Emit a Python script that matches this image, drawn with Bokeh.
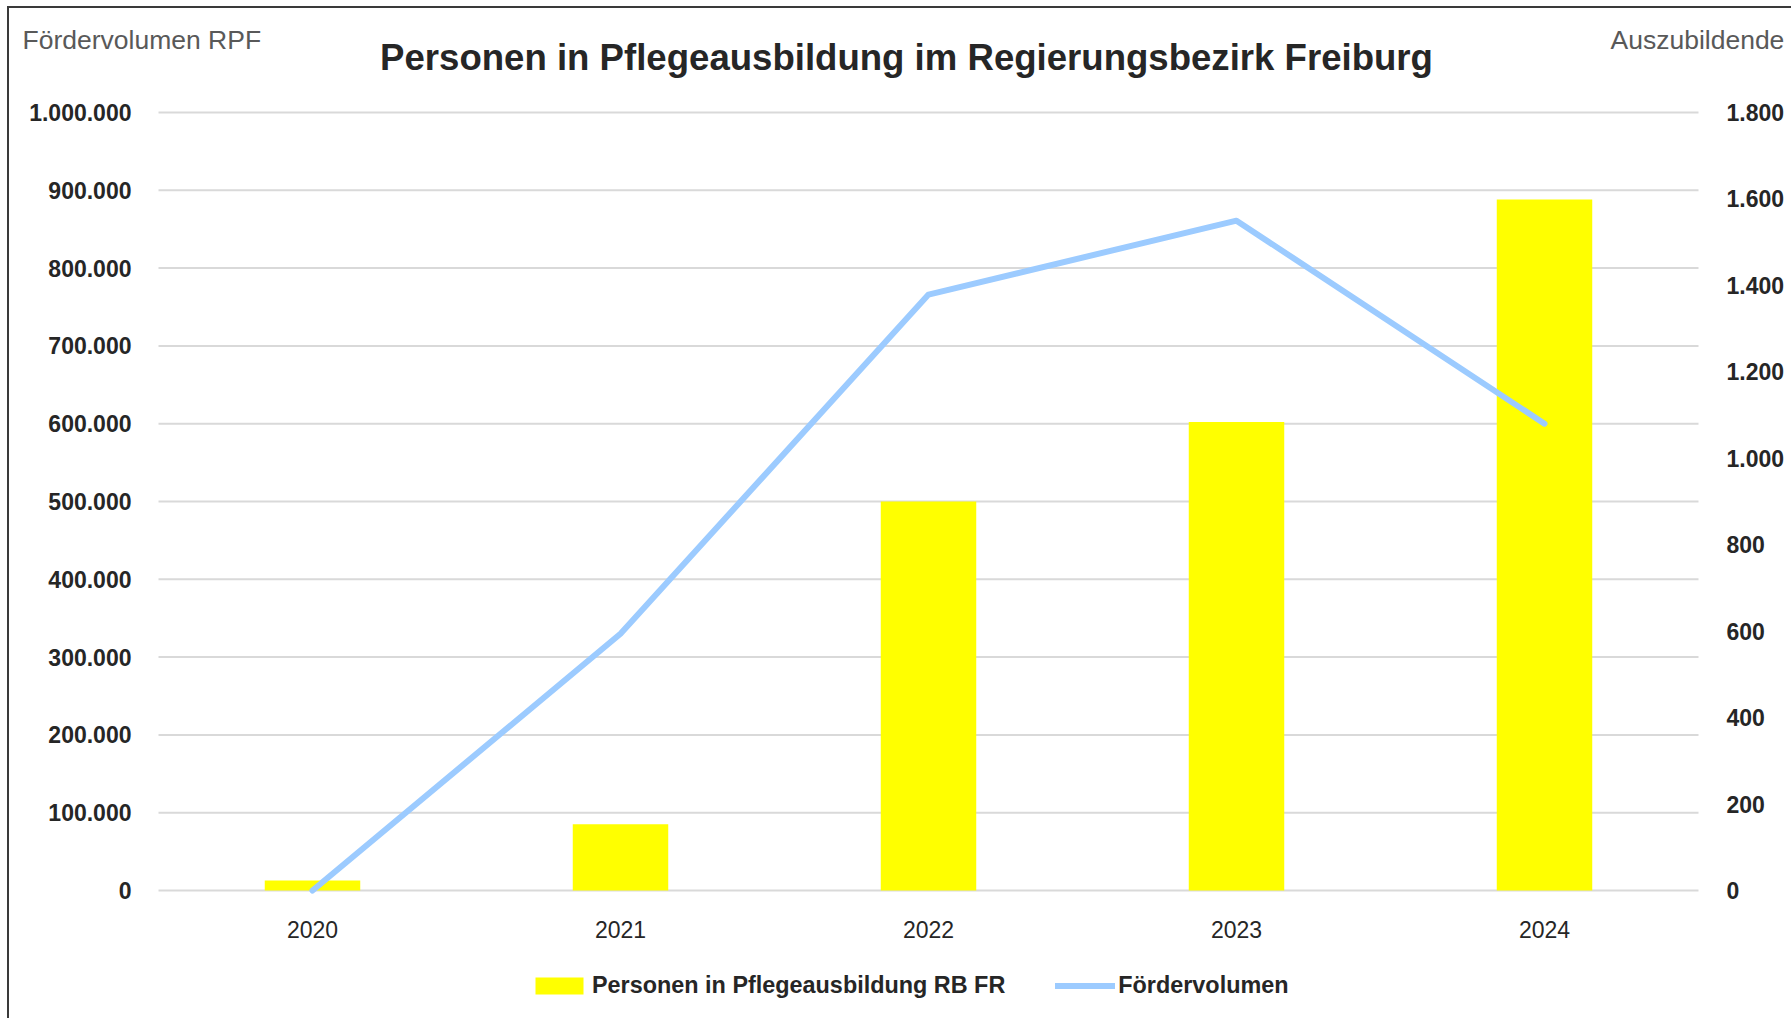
from bokeh.plotting import figure
from bokeh.models import (Range1d, LinearAxis, FixedTicker, Legend, LegendItem, Label)
from bokeh.core.properties import value
from bokeh.embed import file_html
from bokeh.resources import INLINE

# ---- data ----
years = ["2020", "2021", "2022", "2023", "2024"]
personen = [23, 153, 900, 1084, 1599]                     # Auszubildende (right axis)
foerdervolumen = [0, 330000, 766000, 861000, 600000]      # Fördervolumen RPF (left axis)

left_ticks = [0, 100000, 200000, 300000, 400000, 500000, 600000, 700000, 800000, 900000, 1000000]
left_tick_labels = ["0", "100.000", "200.000", "300.000", "400.000", "500.000",
                    "600.000", "700.000", "800.000", "900.000", "1.000.000"]
right_ticks = [0, 200, 400, 600, 800, 1000, 1200, 1400, 1600, 1800]
right_tick_labels = ["0", "200", "400", "600", "800", "1.000", "1.200", "1.400", "1.600", "1.800"]

title_text = "Personen in Pflegeausbildung im Regierungsbezirk Freiburg"
left_title = "Fördervolumen RPF"
right_title = "Auszubildende"
bar_label = "Personen in Pflegeausbildung RB FR"
line_label = "Fördervolumen"

FONT = "Liberation Sans"
TXT = "#262626"
SUB = "#595959"
GRID = "#D9D9D9"
YELLOW = "#FFFF00"
BLUE = "#9CCBFF"

# ---- layout (pixels) ----
W, H = 1784, 1012
PLOT_L, PLOT_R = 149, 1689     # horizontal extent of the category area
PLOT_TOP, ZERO_Y = 104, 882    # y of the max gridline and of the zero line (from top)
n = len(years)
cat_px = (PLOT_R - PLOT_L) / n
x_pos = list(range(n))         # category index -> position on the x scale
x0_data, x1_data = -0.5, n - 0.5
plot_h = ZERO_Y - PLOT_TOP

L_MAX, R_MAX = 1000000, 1800
p = figure(width=W, height=H, output_backend="svg", toolbar_location=None,
           x_range=Range1d(x0_data - PLOT_L / cat_px, x1_data + (W - PLOT_R) / cat_px),
           y_range=Range1d(-(H - ZERO_Y) / plot_h * L_MAX, L_MAX + PLOT_TOP / plot_h * L_MAX),
           min_border_left=0, min_border_right=0, min_border_top=0, min_border_bottom=0)
p.extra_y_ranges = {"azubi": Range1d(-(H - ZERO_Y) / plot_h * R_MAX, R_MAX + PLOT_TOP / plot_h * R_MAX)}
p.outline_line_color = None
p.background_fill_color = "white"
p.border_fill_color = "white"
p.styles = {"margin-left": "7px", "margin-top": "6px",
            "border-top": "2px solid #3a3a3a", "border-left": "2px solid #3a3a3a"}
p.xaxis.visible = False
p.grid.visible = False

# horizontal gridlines across the category area
p.segment(x0=[x0_data] * len(left_ticks), x1=[x1_data] * len(left_ticks),
          y0=left_ticks, y1=left_ticks, line_color=GRID, line_width=2)

# left axis
la = p.yaxis[0]
la.fixed_location = x0_data
la.ticker = FixedTicker(ticks=left_ticks)
la.major_label_overrides = {t: s for t, s in zip(left_ticks, left_tick_labels)}
la.axis_line_color = None
la.major_tick_line_color = None
la.minor_tick_line_color = None
la.major_tick_out = 0
la.major_tick_in = 0
la.minor_tick_out = 0
la.major_label_standoff = 27
la.major_label_text_font = FONT
la.major_label_text_font_style = "bold"
la.major_label_text_font_size = "23px"
la.major_label_text_color = TXT

# right axis
ra = LinearAxis(y_range_name="azubi", fixed_location=x1_data)
ra.ticker = FixedTicker(ticks=right_ticks)
ra.major_label_overrides = {t: s for t, s in zip(right_ticks, right_tick_labels)}
ra.axis_line_color = None
ra.major_tick_line_color = None
ra.minor_tick_line_color = None
ra.major_tick_out = 0
ra.major_tick_in = 0
ra.minor_tick_out = 0
ra.major_label_standoff = 28
ra.major_label_text_font = FONT
ra.major_label_text_font_style = "bold"
ra.major_label_text_font_size = "23px"
ra.major_label_text_color = TXT
p.add_layout(ra, "right")

# category labels under the zero line
p.text(x=x_pos, y=[0] * n, text=years, y_offset=39,
       text_align="center", text_baseline="middle", text_font=value(FONT),
       text_font_size="23px", text_color=TXT)

bars = p.vbar(x=x_pos, top=personen, width=0.31, y_range_name="azubi",
              fill_color=YELLOW, line_color=None)
ln = p.line(x=x_pos, y=foerdervolumen, line_color=BLUE, line_width=6,
            line_cap="round", line_join="round")

legend = Legend(items=[LegendItem(label=bar_label, renderers=[bars]),
                       LegendItem(label=line_label, renderers=[ln])],
                orientation="horizontal", location=(520, 21),
                glyph_width=60, glyph_height=21, label_standoff=3, spacing=50,
                label_text_font=FONT, label_text_font_style="bold",
                label_text_font_size="23.4px", label_text_color=TXT,
                border_line_color=None, background_fill_alpha=0,
                padding=0, margin=0)
p.add_layout(legend, "center")

# title and axis titles (screen units: from the left / bottom of the canvas)
p.add_layout(Label(x=897, y=H - 49, x_units="screen", y_units="screen", text=title_text,
                   text_align="center", text_baseline="middle", text_font=FONT,
                   text_font_style="bold", text_font_size="36.6px", text_color=TXT))
p.add_layout(Label(x=13, y=H - 31, x_units="screen", y_units="screen", text=left_title,
                   text_align="left", text_baseline="middle", text_font=FONT,
                   text_font_size="26.5px", text_color=SUB))
p.add_layout(Label(x=1601, y=H - 31, x_units="screen", y_units="screen", text=right_title,
                   text_align="left", text_baseline="middle", text_font=FONT,
                   text_font_size="26.5px", text_color=SUB))

open("out.html", "w").write(file_html(p, INLINE))
